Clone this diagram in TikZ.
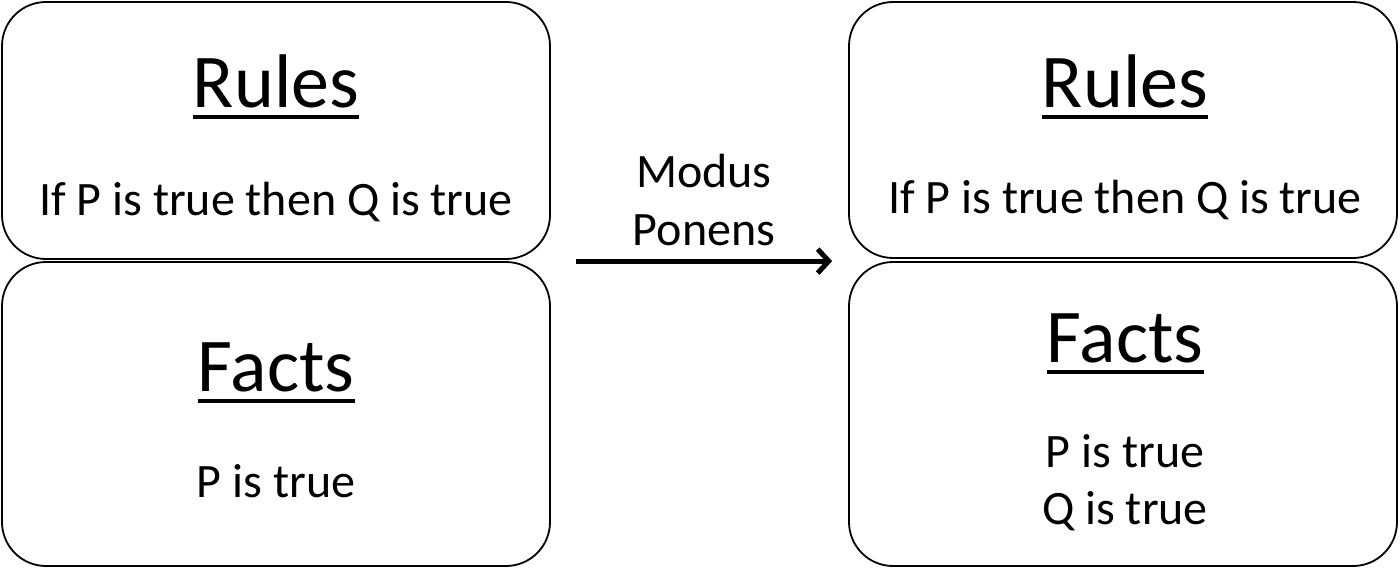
\documentclass[tikz,border=0pt]{standalone}
\usepackage{fontspec}
\setmainfont{Carlito}
\usetikzlibrary{arrows.meta}

\begin{document}
\begin{tikzpicture}[x=1pt,y=-1pt,
    box/.style = {draw, line width=1.8pt, rounded corners=44pt, inner sep=0pt},
    title/.style = {anchor=base, inner sep=0pt, font=\fontsize{76}{80}\selectfont},
    body/.style = {anchor=base, inner sep=0pt, font=\fontsize{48}{56}\selectfont},
    uline/.style = {line width=4pt}]
    \useasboundingbox (0,0) rectangle (1400,568);
    % boxes
    \draw[box] (2,2) rectangle (550,259);
    \draw[box] (2,262) rectangle (550,566);
    \draw[box] (849,2) rectangle (1397,258);
    \draw[box] (849,262) rectangle (1397,566);
    \node[box, draw=none, minimum width=548pt, minimum height=304pt] (factsL) at (276,414) {};
    \node[box, draw=none, minimum width=548pt, minimum height=304pt] (factsR) at (1123,414) {};
    % texts left
    \node[title] (rulesLt) at (276,107) {Rules};
    \node[body] (rulesLb) at (276,215) {If P is true then Q is true};
    \node[title] (factsLt) at (276,391) {Facts};
    \node[body] (factsLb) at (276,497) {P is true};
    % texts right
    \node[title] (rulesRt) at (1125,107) {Rules};
    \node[body] (rulesRb) at (1125,213) {If P is true then Q is true};
    \node[title] (factsRt) at (1125,362) {Facts};
    \node[body] (factsRb1) at (1125,467) {P is true};
    \node[body] (factsRb2) at (1125,524) {Q is true};
    % underlines
    \foreach \t in {rulesLt,factsLt,rulesRt,factsRt}
        \draw[uline] ([yshift=-10pt]\t.base west) -- ([yshift=-10pt]\t.base east);
    % arrow
    \node[body] (modus) at (704,187) {Modus};
    \node[body] (ponens) at (704,245) {Ponens};
    \draw[line width=5pt, -{Straight Barb[length=11pt,width=24pt]}]
        ([xshift=25pt]factsL.north east) -- ([xshift=-16pt]factsR.north west);
\end{tikzpicture}
\end{document}
